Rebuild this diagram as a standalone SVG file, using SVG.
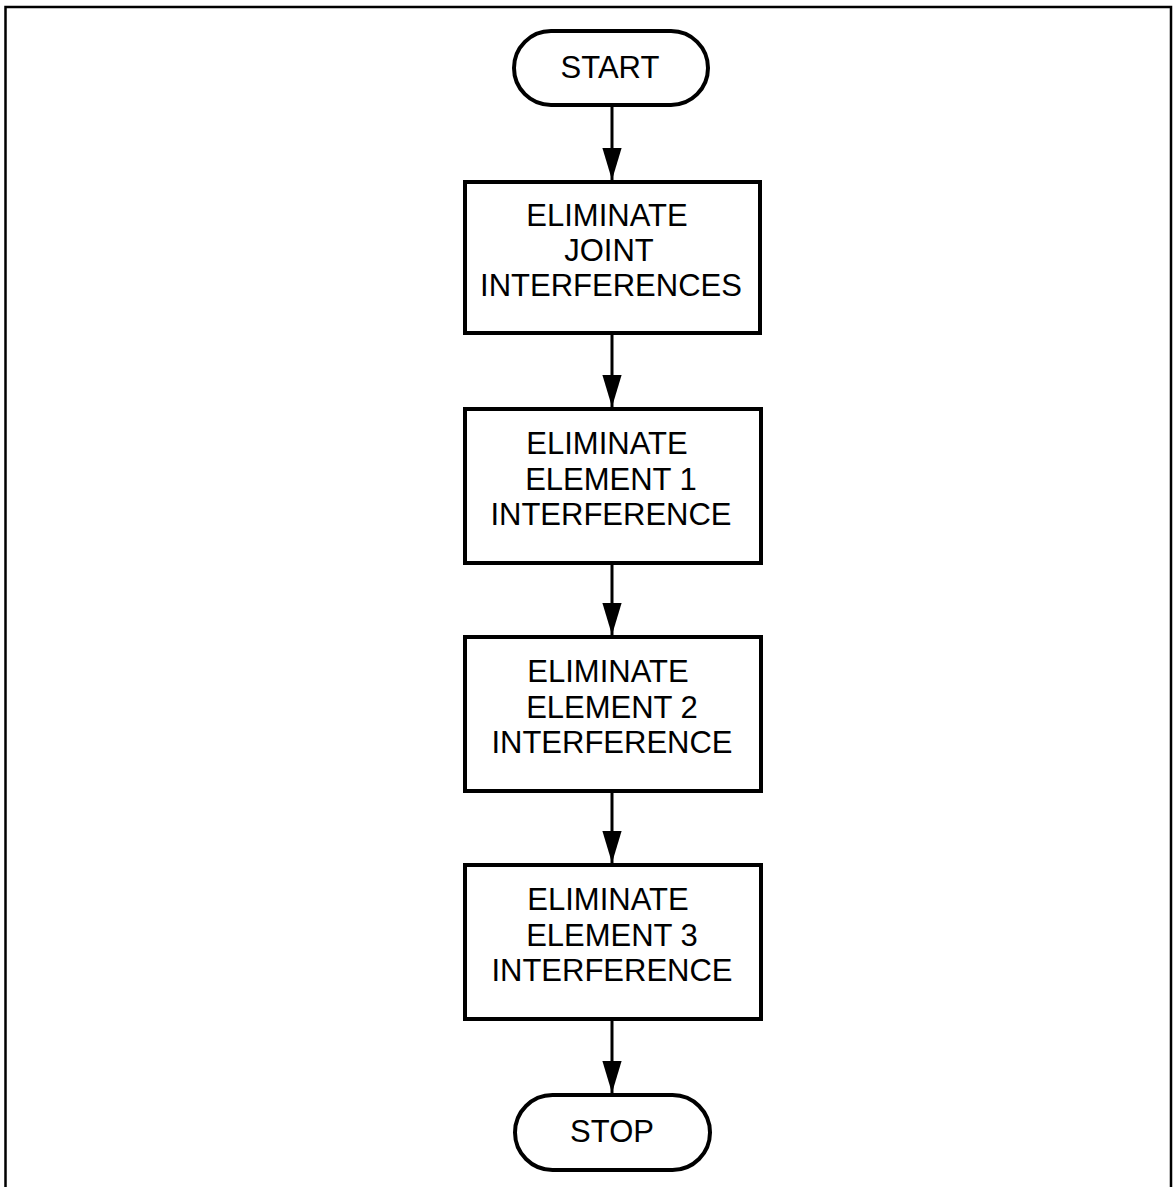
<svg xmlns="http://www.w3.org/2000/svg" width="1173" height="1187" viewBox="0 0 1173 1187">
  <style>
    .node { fill: #fff; stroke: #000; stroke-width: 4; }
    .label { font-family: "Liberation Sans", Arial, sans-serif; font-size: 31px; fill: #000; text-anchor: middle; }
    .edge { fill: none; stroke: #000; stroke-width: 3; }
    .frame { fill: none; stroke: #000; stroke-width: 2.5; }
  </style>
  <defs>
    <marker id="arrowDown" markerUnits="userSpaceOnUse" markerWidth="32" markerHeight="20" viewBox="0 0 30 18" refX="30" refY="9" orient="auto">
      <path d="M0,0 L30,9 L0,18 Z" fill="#000"/>
    </marker>
  </defs>
  <rect width="1173" height="1187" fill="#fff"/>
  <!-- page border -->
  <path class="frame" d="M5.5,1187 V7 H1171 V1187"/>

  <!-- connectors -->
  <g id="connectors">
    <line class="edge" x1="612" y1="107" x2="612" y2="180" marker-end="url(#arrowDown)"/>
    <line class="edge" x1="612" y1="335" x2="612" y2="407" marker-end="url(#arrowDown)"/>
    <line class="edge" x1="612" y1="565" x2="612" y2="635" marker-end="url(#arrowDown)"/>
    <line class="edge" x1="612" y1="792" x2="612" y2="863" marker-end="url(#arrowDown)"/>
    <line class="edge" x1="612" y1="1020" x2="612" y2="1093" marker-end="url(#arrowDown)"/>
  </g>

  <g id="start">
    <rect class="node" x="514" y="31" width="194" height="74" rx="37" ry="37"/>
    <text class="label" x="610" y="78">START</text>
  </g>

  <g id="joint">
    <rect class="node" x="465" y="182" width="295" height="151"/>
    <text class="label" x="607" y="226">ELIMINATE</text>
    <text class="label" x="609" y="261">JOINT</text>
    <text class="label" x="611" y="296">INTERFERENCES</text>
  </g>

  <g id="element1">
    <rect class="node" x="465" y="409" width="296" height="154"/>
    <text class="label" x="607" y="454">ELIMINATE</text>
    <text class="label" x="611" y="490">ELEMENT 1</text>
    <text class="label" x="611" y="525">INTERFERENCE</text>
  </g>

  <g id="element2">
    <rect class="node" x="465" y="637" width="296" height="154"/>
    <text class="label" x="608" y="682">ELIMINATE</text>
    <text class="label" x="612" y="718">ELEMENT 2</text>
    <text class="label" x="612" y="753">INTERFERENCE</text>
  </g>

  <g id="element3">
    <rect class="node" x="465" y="865" width="296" height="154"/>
    <text class="label" x="608" y="910">ELIMINATE</text>
    <text class="label" x="612" y="946">ELEMENT 3</text>
    <text class="label" x="612" y="981">INTERFERENCE</text>
  </g>

  <g id="stop">
    <rect class="node" x="515" y="1095" width="195" height="75" rx="37.5" ry="37.5"/>
    <text class="label" x="612" y="1142">STOP</text>
  </g>
</svg>
